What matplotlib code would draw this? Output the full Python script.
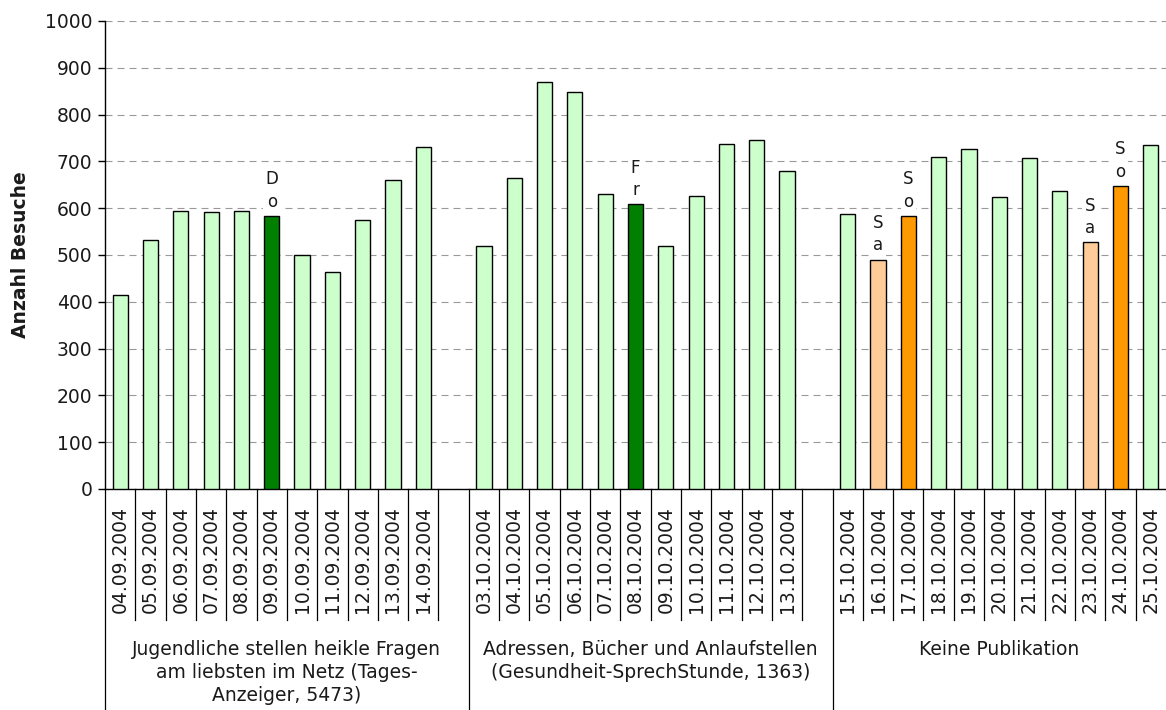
import matplotlib
matplotlib.use("Agg")
import matplotlib.pyplot as plt
from matplotlib.transforms import blended_transform_factory

plt.rcParams['font.family'] = ['DejaVu Sans']

# Daily visit counts, three periods
dates1 = ['04.09.2004', '05.09.2004', '06.09.2004', '07.09.2004', '08.09.2004',
          '09.09.2004', '10.09.2004', '11.09.2004', '12.09.2004', '13.09.2004',
          '14.09.2004']
visits1 = [415, 533, 594, 591, 595, 583, 501, 464, 574, 660, 731]

dates2 = ['03.10.2004', '04.10.2004', '05.10.2004', '06.10.2004', '07.10.2004',
          '08.10.2004', '09.10.2004', '10.10.2004', '11.10.2004', '12.10.2004',
          '13.10.2004']
visits2 = [520, 665, 870, 849, 631, 608, 519, 627, 737, 746, 679]

dates3 = ['15.10.2004', '16.10.2004', '17.10.2004', '18.10.2004', '19.10.2004',
          '20.10.2004', '21.10.2004', '22.10.2004', '23.10.2004', '24.10.2004',
          '25.10.2004']
visits3 = [588, 490, 583, 710, 726, 623, 708, 637, 527, 647, 735]

group_titles = [
    'Jugendliche stellen heikle Fragen\nam liebsten im Netz (Tages-\nAnzeiger, 5473)',
    'Adressen, Bücher und Anlaufstellen\n(Gesundheit-SprechStunde, 1363)',
    'Keine Publikation',
]

# Weekday tags shown above selected bars
day_tags = {'09.09.2004': 'Do', '08.10.2004': 'Fr',
            '16.10.2004': 'Sa', '17.10.2004': 'So',
            '23.10.2004': 'Sa', '24.10.2004': 'So'}

y_ticks = list(range(0, 1001, 100))

tag_colors = {'Do': '#008000', 'Fr': '#008000', 'Sa': '#FFCC99', 'So': '#FF9900'}
base_color = '#CCFFCC'
text_color = '#1a1a1a'

groups = [(dates1, visits1), (dates2, visits2), (dates3, visits3)]

fig = plt.figure(figsize=(11.66, 7.10), dpi=100)
W, H = 1166, 710
x0, x1, ytop, ybot = 105, 1166, 21, 489
ax = fig.add_axes([x0 / W, (H - ybot) / H, (x1 - x0) / W, (ybot - ytop) / H])

# slot layout: each group has its dates plus one empty slot after it (except last)
positions, labels, values, colors, group_spans = [], [], [], [], []
slot = 0
for gi, (ds, vs) in enumerate(groups):
    start = slot
    for d, v in zip(ds, vs):
        positions.append(slot + 0.5)
        labels.append(d)
        values.append(v)
        colors.append(tag_colors.get(day_tags.get(d), base_color))
        slot += 1
    if gi < len(groups) - 1:
        slot += 1
    group_spans.append((start, slot))
n_slots = slot

ax.set_axisbelow(True)
ax.yaxis.grid(True, color='#999999', linewidth=0.8, linestyle=(0, (6.3, 4.5)))
ax.bar(positions, values, width=0.5, color=colors, edgecolor='black',
       linewidth=1.0, zorder=3)

for p, d, v in zip(positions, labels, values):
    tag = day_tags.get(d)
    if tag:
        ax.annotate('\n'.join(tag), xy=(p, v), xytext=(0, 4),
                    textcoords='offset points', ha='center', va='bottom',
                    fontsize=12, linespacing=1.3, multialignment='center',
                    color=text_color,
                    bbox=dict(boxstyle='square,pad=0.15', fc='white', ec='none'),
                    zorder=4)

ax.set_xlim(0, n_slots)
ax.set_ylim(0, 1000)
ax.set_yticks(y_ticks)
ax.tick_params(axis='y', labelsize=13.5, length=5, width=1, direction='out',
               pad=4, labelcolor=text_color)
ax.set_xticks(positions)
ax.set_xticklabels(labels, rotation=90, fontsize=13.5, color=text_color)
ax.tick_params(axis='x', length=0, pad=12)

for s in ['top', 'right']:
    ax.spines[s].set_visible(False)
for s in ['left', 'bottom']:
    ax.spines[s].set_linewidth(1.0)

ax.set_ylabel('Anzahl Besuche', fontsize=13.5, fontweight='bold', labelpad=11,
              color=text_color)

# category separators below the axis
trans = blended_transform_factory(ax.transData, ax.transAxes)
short_end = -(620 - ybot) / (ybot - ytop)
long_end = -(H - ybot) / (ybot - ytop)
group_edges = {start for start, _ in group_spans}
for b in range(0, n_slots):
    end = long_end if b in group_edges else short_end
    ax.plot([b, b], [0, end], color='black', linewidth=0.9,
            transform=trans, clip_on=False, zorder=5)

# group titles
title_y = -(640 - ybot) / (ybot - ytop)
for (start, stop), title in zip(group_spans, group_titles):
    ax.text((start + stop) / 2, title_y, title, transform=trans,
            ha='center', va='top', fontsize=13.5, linespacing=1.28,
            multialignment='center', color=text_color)

fig.savefig('out.png', dpi=100)
